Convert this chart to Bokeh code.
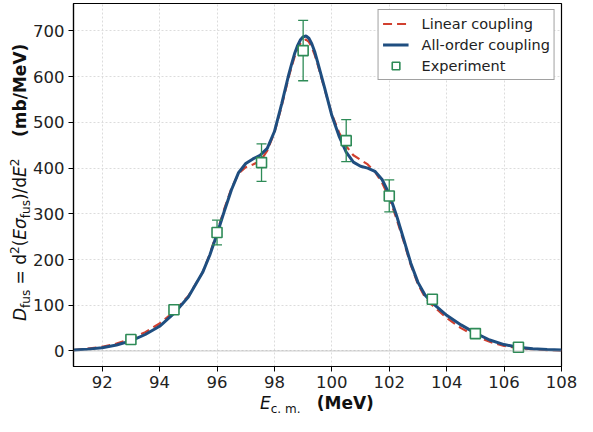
from bokeh.plotting import figure
from bokeh.models import (Span, Legend, LegendItem, Range1d, FixedTicker, Div)
from bokeh.layouts import row, column
from bokeh.embed import file_html
from bokeh.resources import INLINE

# ---------------- data ----------------
E_curve = [91, 91.5, 92, 92.5, 93, 93.5, 94, 94.5, 95, 95.5, 95.75, 96, 96.25, 96.5,
           96.75, 97, 97.25, 97.5, 97.75, 98, 98.25, 98.5, 98.6, 98.7, 98.8, 98.9,
           99.0, 99.1, 99.2, 99.3, 99.4, 99.5, 99.75, 100, 100.25, 100.5, 100.75,
           101, 101.25, 101.5, 101.75, 102, 102.25, 102.5, 102.75, 103, 103.25,
           103.5, 104, 104.5, 105, 105.5, 106, 106.5, 107, 107.5, 108]
D_allorder = [2, 4, 7, 13, 22, 36, 54, 82, 118, 172, 210, 256, 305, 352,
              390, 410, 420, 428, 443, 480, 540, 605, 628, 650, 667, 680,
              687, 689, 684, 672, 655, 633, 575, 515, 470, 435, 413,
              404, 400, 393, 375, 343, 297, 245, 192, 150, 122,
              105, 78, 57, 39, 24, 14, 8, 5, 3, 2]
D_linear = [2, 5, 9, 16, 27, 41, 60, 86, 120, 172, 212, 260, 310, 355,
            388, 402, 408, 415, 438, 478, 535, 600, 622, 643, 660, 672,
            679, 681, 676, 664, 648, 628, 572, 518, 478, 448, 428,
            418, 408, 392, 368, 335, 290, 240, 188, 146, 117,
            100, 72, 50, 33, 20, 11, 6, 4, 2, 1]

E_exp = [93.0, 94.5, 96.0, 97.55, 99.0, 100.5, 102.0, 103.5, 105.0, 106.5]
D_exp = [25, 90, 259, 412, 657, 460, 339, 113, 38, 8]
D_err = [5, 6, 27, 41, 66, 46, 35, 8, 5, 3]

x_ticks = [92, 94, 96, 98, 100, 102, 104, 106, 108]
y_ticks = [0, 100, 200, 300, 400, 500, 600, 700]

RED = "#d1402f"
BLUE = "#1f4e80"
GREEN = "#2e8b57"
FONT = "DejaVu Sans"

# ---------------- main figure ----------------
p = figure(width=547, height=394, output_backend="svg", toolbar_location=None,
           x_range=Range1d(91, 108), y_range=Range1d(-34, 760),
           min_border_left=41, min_border_right=16, min_border_top=3,
           min_border_bottom=28)
p.background_fill_color = "white"
p.border_fill_color = "white"
p.outline_line_color = "black"
p.outline_line_width = 1.2

p.xaxis.ticker = FixedTicker(ticks=x_ticks)
p.yaxis.ticker = FixedTicker(ticks=y_ticks)
for ax in (p.xaxis, p.yaxis):
    ax.axis_label = None
    ax.major_label_text_font = FONT
    ax.major_label_text_font_size = "16.5px"
    ax.major_label_text_color = "#222222"
    ax.major_tick_out = 5
    ax.major_tick_in = 0
    ax.minor_tick_out = 0
    ax.minor_tick_in = 0
    ax.axis_line_color = "black"
    ax.axis_line_width = 1.2
    ax.major_tick_line_color = "black"
    ax.major_label_standoff = 4

p.grid.grid_line_color = "#dcdcdc"
p.grid.grid_line_dash = "2 2"
p.grid.grid_line_width = 1

p.add_layout(Span(location=0, dimension="width", line_color="#9a9a9a",
                  line_dash="1 1", line_width=1))

r_lin = p.line(E_curve, D_linear, line_color=RED, line_width=2.2, line_dash="9 5")
r_all = p.line(E_curve, D_allorder, line_color=BLUE, line_width=3)

upper = [d + e for d, e in zip(D_exp, D_err)]
lower = [d - e for d, e in zip(D_exp, D_err)]
p.segment(x0=E_exp, y0=lower, x1=E_exp, y1=upper, line_color=GREEN, line_width=1.3)
p.scatter(E_exp, upper, marker="dash", size=10, line_color=GREEN, line_width=1.3)
p.scatter(E_exp, lower, marker="dash", size=10, line_color=GREEN, line_width=1.3)
r_exp = p.scatter(E_exp, D_exp, marker="square", size=10, fill_color="white",
                  line_color=GREEN, line_width=1.6)

legend = Legend(items=[LegendItem(label="Linear coupling", renderers=[r_lin]),
                       LegendItem(label="All-order coupling", renderers=[r_all]),
                       LegendItem(label="Experiment", renderers=[r_exp])],
                location="top_right")
legend.label_text_font = FONT
legend.label_text_font_size = "14.5px"
legend.label_text_color = "#222222"
legend.border_line_color = "#444444"
legend.border_line_width = 1.2
legend.background_fill_color = "white"
legend.background_fill_alpha = 1
legend.padding = 4
legend.spacing = 2
legend.margin = 6
legend.glyph_width = 26
legend.glyph_height = 19
legend.label_height = 19
legend.label_standoff = 13
p.add_layout(legend)

# ---------------- axis labels as real HTML text ----------------
SUB = '<sub style="font-size:12px;line-height:0">'
SUP = '<sup style="font-size:12px;line-height:0">'
base_style = ("position:absolute;white-space:nowrap;font-family:'DejaVu Sans';"
              "font-size:17px;line-height:17px;color:#111111;")

ylab_html = ('<div style="' + base_style + 'left:12px;top:321px;'
             'transform:rotate(-90deg);transform-origin:0 0;">'
             '<i>D</i>' + SUB + 'fus</sub> = d' + SUP + '2</sup>'
             '(<i>Eσ</i>' + SUB + 'fus</sub>)/d<i>E</i>' + SUP + '2</sup>'
             '&nbsp;&nbsp;&nbsp;&nbsp;<b>(mb/MeV)</b></div>')
xlab_html = ('<div style="' + base_style + 'left:260px;top:1px;">'
             '<i>E</i>' + SUB + 'c. m.</sub>&nbsp;&nbsp;&nbsp;<b>(MeV)</b></div>')

yl = Div(text=ylab_html, width=30, height=394, margin=0,
         styles={"position": "relative", "overflow": "visible"})
xl = Div(text=xlab_html, width=577, height=22, margin=0,
         styles={"position": "relative", "overflow": "visible"})

layout = column(row(yl, p), xl)
open("out.html", "w").write(file_html(layout, INLINE))
